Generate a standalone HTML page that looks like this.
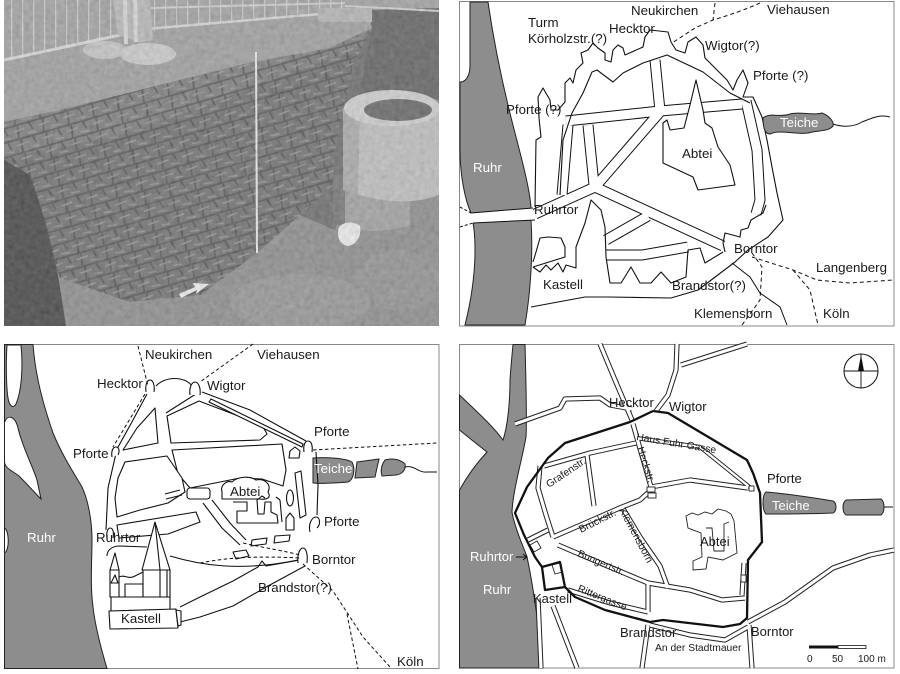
<!DOCTYPE html>
<html><head><meta charset="utf-8">
<style>
html,body{margin:0;padding:0;background:#fff;width:900px;height:674px;overflow:hidden}
svg{display:block}
text{font-family:"Liberation Sans",sans-serif;fill:#1a1a1a}
</style></head><body>
<svg width="900" height="674" viewBox="0 0 900 674" xmlns="http://www.w3.org/2000/svg">
<defs>
 <clipPath id="pc"><rect x="4" y="0" width="435" height="326"/></clipPath>
 <filter id="nz" x="4" y="0" width="435" height="326" filterUnits="userSpaceOnUse">
   <feTurbulence type="fractalNoise" baseFrequency="0.2" numOctaves="3" seed="5"/>
   <feColorMatrix type="matrix" values="0.33 0.33 0.33 0 0 0.33 0.33 0.33 0 0 0.33 0.33 0.33 0 0 0 0 0 0 1"/>
 </filter>
 <pattern id="fence" width="11" height="80" patternUnits="userSpaceOnUse"><rect x="0" y="0" width="1.3" height="80" fill="#d2d2d2"/></pattern>
 <pattern id="stones" width="26" height="14" patternUnits="userSpaceOnUse" patternTransform="rotate(-16)">
   <path d="M0,13 L26,13 M8,0 L6,13 M20,0 L22,7" stroke="#3a3a3a" stroke-width="1.8" fill="none"/>
   <path d="M2,5 L14,4 M15,9 L24,10" stroke="#959595" stroke-width="1.6" fill="none"/>
 </pattern>
 <path id="trS" d="M535,214 L595,187 M595,187 L660,112 M595,187 L723,246 M566,121 L660,111 L742,104 M655,60 L660,111 M568,125 L562,195 M588,125 L594,185 M606,240 L648,216 M606,255 L642,255 L688,247 M746,101 L757,150 L760,200 L756,214"/>
 <path id="brS" d="M600,344 L615,380 L632,420 M633,424 L641,452 L651,487 M677,344 L676,370 L668,395 L656,411 M681,365 L747,344 M515,424 L560,408 L565,399 L600,398 L610,405 L632,409 M544,466 L590,453 L636,443 M540,466 L538,488 L546,515 L553,537 M587,455 L594,506 M553,537 L590,521 L622,507 L640,500 L651,490 M651,487 L690,480 L748,488 M622,507 L640,537 L660,566 L668,588 M558,545 L605,565 L648,583 M568,590 L610,603 L648,612 M648,583 L648,612 M648,583 L690,590 L722,600 L745,598 M748,622 L785,602 L833,568 L870,555 L894,550 M650,625 L690,635 L725,640 L748,627 M648,625 L642,668 M749,625 L752,668 M538,598 L541,668 M553,606 L577,668 M744,563 L742,595 M528,540 L548,530"/>
 <path id="brH" d="M636,438 L700,447 L752,489"/>
</defs>

<!-- ================= PHOTO ================= -->
<g clip-path="url(#pc)">
 <rect x="4" y="0" width="435" height="326" fill="#858585"/>
 <rect x="4" y="0" width="435" height="64" fill="#9c9c9c"/>
 <polygon points="4,0 350,0 350,8 125,34 4,60" fill="url(#fence)" opacity="0.85"/>
 <polygon points="4,60 125,34 320,14 368,10 372,28 330,48 253,62 180,80 120,95 60,110 4,122" fill="#9a9a9a"/>
 <polygon points="368,10 439,8 439,100 405,92 372,98 352,100 355,60 372,28" fill="#555555"/>
 <polygon points="4,122 60,110 120,95 180,80 253,62 330,48 372,28 355,60 345,100 335,150 333,185 300,215 257,253 200,295 130,302 60,278 40,220 4,170" fill="#656565"/>
 <polygon points="4,122 60,110 120,95 180,80 253,62 330,48 372,28 360,48 300,70 240,92 180,115 120,135 60,148 4,158" fill="#727272"/>
 <polygon points="4,122 60,110 120,95 180,80 253,62 330,48 372,28 355,60 345,100 335,150 333,185 300,215 257,253 200,295 130,302 60,278 40,220 4,170" fill="url(#stones)" opacity="0.75"/>
 <polygon points="345,100 355,60 372,28 360,90 350,140 345,200 335,230 300,215 333,185 335,150" fill="#606060"/>
 <polygon points="4,160 30,175 45,220 58,275 66,326 4,326" fill="#343434"/>
 <ellipse cx="300" cy="302" rx="70" ry="28" fill="#939393" opacity="0.7"/>
 <ellipse cx="400" cy="280" rx="45" ry="30" fill="#8d8d8d" opacity="0.7"/>
 <line x1="4" y1="60" x2="125" y2="34" stroke="#dcdcdc" stroke-width="3"/>
 <line x1="134" y1="30" x2="320" y2="14" stroke="#d6d6d6" stroke-width="2.5"/>
 <line x1="150" y1="8" x2="345" y2="3" stroke="#d0d0d0" stroke-width="2"/>
 <line x1="345" y1="6" x2="439" y2="11" stroke="#d0d0d0" stroke-width="2"/>
 <polygon points="113,0 150,0 153,40 140,42 118,35" fill="#b6b6b6"/>
 <line x1="125" y1="0" x2="126" y2="44" stroke="#d8d8d8" stroke-width="4"/>
 <line x1="135" y1="0" x2="136" y2="42" stroke="#d8d8d8" stroke-width="4"/>
 <ellipse cx="105" cy="50" rx="22" ry="9" fill="#c4c4c4"/>
 <ellipse cx="148" cy="54" rx="28" ry="11" fill="#cbcbcb"/>
 <rect x="318" y="8" width="54" height="14" fill="#b2b2b2"/>
 <path d="M333,175 L410,175 L410,225 Q372,238 333,222 Z" fill="#9c9c9c"/>
 <rect x="333" y="175" width="12" height="50" fill="#6a6a6a"/>
 <path d="M343,108 L439,108 L439,195 Q400,210 343,190 Z" fill="#bdbdbd"/>
 <path d="M343,108 L360,108 L358,195 L343,190 Z" fill="#a6a6a6"/>
 <ellipse cx="392" cy="108" rx="48" ry="18" fill="#d0d0d0"/>
 <ellipse cx="398" cy="110" rx="34" ry="11" fill="#5a5a5a"/>
 <line x1="256" y1="52" x2="257" y2="253" stroke="#efefef" stroke-width="2"/>
 <path d="M338,230 C340,222 352,220 360,226 C362,236 356,246 347,246 C340,244 337,238 338,230 Z" fill="#f0f0f0"/>
 <polygon points="181,298 197,290 196,294 209,284 193,283 195,287 179,294" fill="#f2f2f2"/>
 <rect x="4" y="0" width="435" height="326" filter="url(#nz)" opacity="0.3"/>
</g>

<!-- ================= TOP RIGHT MAP ================= -->
<g>
 <rect x="459.5" y="1.5" width="434.5" height="324.5" fill="#fff" stroke="#888" stroke-width="1"/>
 <path d="M470,2 L488,2 C495,50 505,95 515,133 C522,160 530,190 531,208 L531,220 C533,250 531,290 525,325 L465,325 C470,305 475,280 475,250 C475,235 474,228 473,223 L471,213 C465,200 460,175 460,150 L460,82 C466,82 470,76 470,65 Z" fill="#8d8d8d" stroke="#222" stroke-width="1"/>
 <polygon points="460,210 471,213 533,208 535,220 473,223 460,224" fill="#fff"/>
 <path d="M471,213 L533,208 M473,223 L535,220" stroke="#111" stroke-width="1" fill="none"/>
 <path d="M460,207 L471,213 M460,227 L473,223" stroke="#111" stroke-width="1" stroke-dasharray="3,2" fill="none"/>
 <use href="#trS" stroke="#111" stroke-width="11" fill="none" stroke-linejoin="round"/>
 <use href="#trS" stroke="#fff" stroke-width="9" fill="none" stroke-linejoin="round"/>
 <g stroke="#111" stroke-width="1.1" fill="none" stroke-linejoin="round">
  <path d="M535,207 L536,140 L541,137 L539,118 L538,97 L543,88 L550,100 L551,110 L558,110 L565,102 L565,83 L570,78 L573,83 L576,70 L583,63 L581,53 L588,50 L593,43 L598,48 L605,53 L605,60 L611,62 L613,50 L618,45 L623,48 L625,55 L643,47 L645,37 L650,30 L668,32 L671,42 L676,50 L685,53 L688,42 L696,37 L703,45 L705,58 L727,80 L733,90 L737,80 L743,70 L748,83 L743,97 L753,97 L762,117 L767,140 L772,167 L777,193 L783,220 L768,237 L748,250 L735,262 L698,290 L671,298 L608,297 L585,297 L531,307"/>
  <path d="M560,195 L563,140 L572,113 L583,93 L592,72 L597,70 L613,82 L623,73 L643,63 L667,55 L703,72 L730,93 L750,103"/>
  <path d="M766,205 L763,213 L751,220 L748,228 L741,230 L740,237 L725,233 L723,243 L725,252"/>
  <path d="M723,252 L705,263 L700,248 L688,250 L686,277 L671,283 L661,272 L651,283 L640,283 L631,267 L621,283 L610,283 L606,257 L605,227 L601,210 L591,200 L585,223 L576,247 L576,268 L566,265 L563,272 L558,263 L551,270 L546,265 L540,272 L533,267"/>
  <path d="M533,262 L536,252 L540,238 L548,237 L561,238 L565,247 L565,257 L533,267"/>
  <path d="M696,80 L703,110 L705,123 L712,128 L718,147 L730,165 L735,185 L698,190 L693,177 L663,163 L663,123 L667,120 L670,130 L684,128 L690,105 Z" fill="#fff"/>
 </g>
 <path d="M763,118 C770,112 780,118 790,114 C800,111 812,116 822,113 C830,116 834,122 833,126 C828,132 818,130 808,133 C795,135 780,129 770,134 C765,134 763,128 763,118 Z" fill="#8d8d8d" stroke="#222" stroke-width="1"/>
 <path d="M833,124 C845,128 855,126 862,122 C872,118 880,114 890,117" stroke="#111" stroke-width="1" fill="none"/>
 <g stroke="#111" stroke-width="1" fill="none">
  <path d="M715,3 L713,20" stroke-dasharray="4,3"/>
  <path d="M760,3 Q740,12 713,20 L695,28 L672,43" stroke-dasharray="4,3"/>
  <path d="M752,253 L762,267 L760,300 L742,325" stroke-dasharray="4,3"/>
  <path d="M752,257 L793,270 L817,280 L850,283 L893,280" stroke-dasharray="4,3"/>
  <path d="M793,270 L810,290 L818,325" stroke-dasharray="4,3"/>
  <path d="M732,263 L750,277 L760,293 L780,307 L787,325"/>
 </g>
 <g font-size="13.3">
  <text x="631" y="15">Neukirchen</text>
  <text x="767" y="14">Viehausen</text>
  <text x="528" y="27">Turm</text>
  <text x="528" y="43">Körholzstr.(?)</text>
  <text x="609" y="33">Hecktor</text>
  <text x="705" y="50">Wigtor(?)</text>
  <text x="753" y="80">Pforte (?)</text>
  <text x="506" y="114">Pforte (?)</text>
  <text x="780" y="127" style="fill:#fff">Teiche</text>
  <text x="682" y="158">Abtei</text>
  <text x="473" y="172" style="fill:#fff">Ruhr</text>
  <text x="534" y="214">Ruhrtor</text>
  <text x="734" y="253">Borntor</text>
  <text x="816" y="272">Langenberg</text>
  <text x="543" y="289">Kastell</text>
  <text x="672" y="290">Brandstor(?)</text>
  <text x="694" y="318">Klemensborn</text>
  <text x="823" y="318">Köln</text>
 </g>
</g>

<!-- ================= BOTTOM LEFT MAP ================= -->
<g>
 <rect x="4.5" y="344.5" width="434.5" height="324" fill="#fff" stroke="#888" stroke-width="1"/>
 <path d="M4.5,344.5 L33,344.5 C35,370 40,395 53,433 C62,455 75,475 82,487 C88,500 92,520 92,540 C92,560 90,585 93,607 C95,625 100,645 107,668.5 L4.5,668.5 Z" fill="#8d8d8d" stroke="#222" stroke-width="1"/>
 <path d="M7,345 L21,345 C23,365 22,390 16,404 C12,410 9,404 8,398 C6,385 6,360 7,345 Z" fill="#fff" stroke="#222" stroke-width="1"/>
 <path d="M4.5,422 C8,414 15,416 18,428 C22,446 31,462 37,480 L41,499 C34,492 27,484 19,476 C11,470 5,468 4.5,462 Z" fill="#fff" stroke="#222" stroke-width="1"/>
 <path d="M4.5,528 C9,530 10,550 4.5,553 Z" fill="#fff" stroke="#222" stroke-width="1"/>
 <g fill="#8d8d8d" stroke="#222" stroke-width="1">
  <path d="M313,458 C325,457 345,458 352,462 C356,470 353,480 348,482 C335,483 322,484 313,483 Z"/>
  <polygon points="357,462 379,459 375,477 355,478"/>
  <path d="M385,460 C392,458 400,459 405,464 C406,469 403,474 396,475 L382,476 C380,470 382,464 385,460 Z"/>
 </g>
 <path d="M405,467 C415,465 418,473 427,472 L437,472" stroke="#111" stroke-width="1" fill="none"/>
 <g stroke="#111" stroke-width="1.1" fill="#fff" stroke-linejoin="round">
  <path d="M147,394 L133,420 L117,449 L108,488 L106,530" fill="none"/>
  <path d="M156,386 C165,376 185,376 192,386" fill="none"/>
  <path d="M202,392 L250,410 L306,441" fill="none"/>
  <path d="M316,452 L318,485 L317,515" fill="none"/>
  <path d="M305,566 L268,586 L233,606 L200,617 L180,622" fill="none"/>
  <path d="M180,607 L200,597 L233,581 L258,567 L262,561 L266,566 L300,560" fill="none"/>
  <path d="M170,556 C200,565 240,572 298,560" fill="none"/>
  <path d="M199,392 L166,413" fill="none"/>
  <path d="M155,408 L158,443 L123,450 L137,428 Z"/>
  <path d="M167,416 L199,401 L262,425 L267,434 L260,440 L171,443 Z"/>
  <path d="M172,450 L282,444 L286,470 L283,486 L262,479 L240,478 L215,483 L190,488 L178,474 Z"/>
  <path d="M125,462 L167,456 L182,478 L185,492 L168,503 L140,510 L117,517 L115,498 L118,478 Z"/>
  <path d="M117,525 L196,512 L200,522 L168,534 L119,538 Z"/>
  <path d="M211,399 L303,444 L302,447 L209,402 Z"/>
  <path d="M289,458 L290,451 L295,447 L300,451 L299,458 Z"/>
  <path d="M295,473 L301,471 L306,515 L300,518 Z"/>
  <ellipse cx="290" cy="498" rx="3.5" ry="8"/>
  <path d="M286,530 L286,518 L290,513 L294,518 L294,530 Z"/>
  <rect x="187" y="488" width="23" height="11" rx="3"/>
  <polygon points="252,540 267,538 266,544 251,546"/>
  <polygon points="275,536 290,535 289,541 274,543"/>
  <polygon points="233,552 246,550 249,556 236,559"/>
  <path d="M203,503 L222,528 L240,545 M212,500 L230,523 L246,540" fill="none"/>
  <path d="M165,494 L180,490 M166,499 L182,495" fill="none"/>
  <path d="M222,492 C220,486 226,480 232,482 C238,476 250,476 256,480 C264,478 272,484 268,492 C272,498 266,500 260,499 L222,499 Z"/>
  <path d="M233,502 L247,502 L247,511 L237,511 L237,523 L278,523 L277,515 L271,512 L271,502 L265,502 L264,514 L258,514 L257,500 L262,496 L265,498" fill="none"/>
  <path d="M280,500 L282,522 M276,497 L280,500" fill="none"/>
 </g>
 <g stroke="#111" stroke-width="1.1" fill="#fff">
  <path d="M146,392 C145,385 147,380 150,380 C153,380 155,385 154,392"/>
  <path d="M190,395 C189,387 192,382 195,382 C198,382 201,387 200,395"/>
  <path d="M304,452 C303,445 305,441 308,441 C311,441 313,445 312,452"/>
  <path d="M112,457 C111,451 113,447 116,447 C119,447 120,451 118,455"/>
  <path d="M107,538 C106,532 108,528 110,528 C113,528 114,532 113,538"/>
  <path d="M298,563 C297,554 300,548 303,548 C306,548 308,554 307,563"/>
  <path d="M310,532 C308,524 312,517 316,517 C320,517 321,524 317,528"/>
 </g>
 <g stroke="#111" stroke-width="1.1" fill="#fff" stroke-linejoin="round">
  <path d="M107,556 C107,550 112,546 120,546 L147,547" fill="none"/>
  <rect x="111" y="597" width="59" height="14"/>
  <rect x="110" y="570" width="9" height="27"/>
  <polygon points="110,570 115,553 119,570"/>
  <polygon points="111,583 115,575 118,583"/>
  <rect x="125" y="584" width="18" height="13"/>
  <rect x="143" y="570" width="27" height="27"/>
  <polygon points="142,570 155,522 170,570"/>
  <path d="M160,570 L160,597 M167,570 L167,597 M155,522 L160,570" fill="none"/>
  <path d="M119,577 C125,574 128,580 135,576 L143,572" fill="none"/>
  <polygon points="109,611 176,609 178,628 110,629"/>
  <polygon points="176,610 181,611 181,625 178,626"/>
 </g>
 <g stroke="#111" stroke-width="1" fill="none" stroke-dasharray="3.5,2.5">
  <path d="M138,346 L148,386"/>
  <path d="M145,394 L113,447"/>
  <path d="M253,344 L200,382"/>
  <path d="M313,450 L437,443"/>
  <path d="M303,564 L333,591 L350,617 L363,637 L390,667"/>
  <path d="M347,614 L358,669"/>
  <path d="M200,563 C230,557 260,556 300,558"/>
  <path d="M243,543 C265,548 285,551 300,555"/>
 </g>
 <g font-size="13.3">
  <text x="145" y="359">Neukirchen</text>
  <text x="257" y="359">Viehausen</text>
  <text x="97" y="388">Hecktor</text>
  <text x="207" y="390">Wigtor</text>
  <text x="314" y="436">Pforte</text>
  <text x="73" y="458">Pforte</text>
  <text x="314" y="473" style="fill:#fff">Teiche</text>
  <text x="230" y="496">Abtei</text>
  <text x="324" y="526">Pforte</text>
  <text x="27" y="542" style="fill:#fff">Ruhr</text>
  <text x="96" y="542">Ruhrtor</text>
  <text x="312" y="564">Borntor</text>
  <text x="258" y="592">Brandstor(?)</text>
  <text x="121" y="623">Kastell</text>
  <text x="397" y="666">Köln</text>
 </g>
</g>

<!-- ================= BOTTOM RIGHT MAP ================= -->
<g>
 <rect x="459.5" y="344.5" width="434.5" height="323.5" fill="#fff" stroke="#888" stroke-width="1"/>
 <path d="M513,344.5 L525,344.5 C526,380 527,420 526,437 C522,460 513,490 512,512 C515,530 525,550 527,557 C532,580 538,620 543,668 L459.5,668 L459.5,490 C465,480 475,465 487,452 C478,445 468,437 459.5,430 L459.5,395 C475,410 492,425 503,440 C508,425 510,400 510,380 C511,365 512,355 513,344.5 Z" fill="#8d8d8d" stroke="#222" stroke-width="1"/>
 <g fill="#8d8d8d" stroke="#222" stroke-width="1">
  <path d="M766,492 C790,494 815,498 833,501 C837,503 837,511 833,513 C810,514 785,514 766,514 C762,510 762,495 766,492 Z"/>
  <path d="M846,500 L881,499 C885,502 885,512 881,515 L846,515 C842,512 842,503 846,500 Z"/>
 </g>
 <path d="M884,507 L893,507" stroke="#111" stroke-width="1"/>
 <use href="#brS" stroke="#222" stroke-width="5.2" fill="none" stroke-linejoin="round"/>
 <use href="#brH" stroke="#222" stroke-width="4.2" fill="none" stroke-linejoin="round"/>
 <use href="#brS" stroke="#fff" stroke-width="3.2" fill="none" stroke-linejoin="round"/>
 <use href="#brH" stroke="#fff" stroke-width="2.4" fill="none" stroke-linejoin="round"/>
 <g stroke="#222" stroke-width="0.9" fill="#fff">
  <rect x="647" y="487" width="8" height="5"/>
  <rect x="648" y="493" width="8" height="5"/>
  <rect x="741" y="575" width="5" height="7"/>
  <rect x="749" y="486" width="5" height="5"/>
  <path d="M686,516 L692,513 L698,515 L705,512 L712,514 L718,509 L726,511 L731,514 L734,521 L737,553 L723,560 L708,557 L706,569 L693,570 L693,561 L702,557 L701,533 L688,528 Z"/>
  <path d="M706,528 L712,528 L714,551 L724,551 L724,524 L729,522" fill="none"/>
  <path d="M530,545 L537,541 L541,548 L534,552 Z"/>
  <path d="M552,565 L560,563 L562,572 L555,574 Z"/>
 </g>
 <g stroke="#111" stroke-width="2.3" fill="none" stroke-linejoin="round">
  <path d="M653,411 L668,413 L747,460 L753,473 L760,493 L762,542 L748,560 L747,618 L740,624 L723,627 L663,620 L650,622 L605,610 L575,597 L565,587"/>
  <path d="M542,567 L535,557 L524,535 L515,513 L527,487 L548,458 L565,443 L630,422 L653,411"/>
  <path d="M542,567 L560,562 L565,587 L545,590 Z"/>
 </g>
 <path d="M516,557 L527,557 M523,554 L527,557 L523,560" stroke="#111" stroke-width="1" fill="none"/>
 <circle cx="861" cy="371" r="17" fill="#fff" stroke="#111" stroke-width="1"/>
 <path d="M844,371 L878,371 M861,354 L861,388" stroke="#111" stroke-width="0.9"/>
 <polygon points="858,371 861,355 864,371" fill="#111"/>
 <rect x="809" y="645.5" width="29" height="3" fill="#111"/>
 <rect x="838" y="645.5" width="28" height="3" fill="#fff" stroke="#111" stroke-width="0.8"/>
 <g font-size="10">
  <text x="807" y="662">0</text>
  <text x="832" y="662">50</text>
  <text x="858" y="662">100 m</text>
 </g>
 <g font-size="13">
  <text x="609" y="407">Hecktor</text>
  <text x="669" y="411">Wigtor</text>
  <text x="767" y="483">Pforte</text>
  <text x="772" y="510" style="fill:#fff">Teiche</text>
  <text x="700" y="546">Abtei</text>
  <text x="470" y="561" style="fill:#fff">Ruhrtor</text>
  <text x="483" y="594" style="fill:#fff">Ruhr</text>
  <text x="533" y="603">Kastell</text>
  <text x="620" y="637">Brandstor</text>
  <text x="751" y="636">Borntor</text>
 </g>
 <g font-size="10.3">
  <text x="655" y="651">An der Stadtmauer</text>
  <text transform="translate(636,440) rotate(9.5)">Haus Fuhr Gasse</text>
  <text transform="translate(637,448) rotate(72)">Heckstr.</text>
  <text transform="translate(549,488) rotate(-34)">Grafenstr.</text>
  <text transform="translate(581,533) rotate(-27)">Brückstr.</text>
  <text transform="translate(619,510) rotate(62)">Klemensborn</text>
  <text transform="translate(577,556) rotate(23)">Bungertstr.</text>
  <text transform="translate(577,591) rotate(22)">Rittergasse</text>
 </g>
</g>
</svg>
</body></html>
